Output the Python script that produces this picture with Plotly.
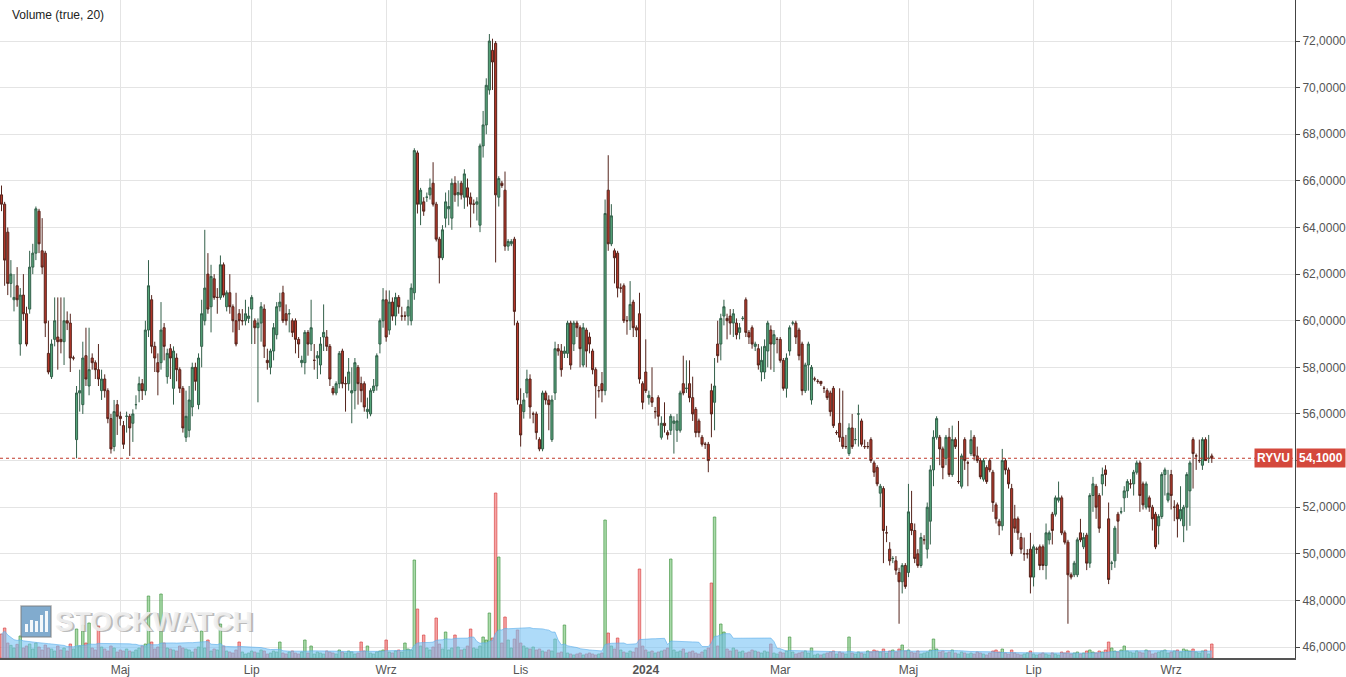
import numpy as np
import pandas as pd
import plotly.graph_objects as go

# ---------------- data ----------------
open_ = [
    65.4, 65.0, 63.8, 61.6, 60.9, 61.5, 59.0, 61.1, 60.3, 60.5,
    62.3, 62.9, 64.7, 63.0, 62.9, 58.6, 57.6, 59.2, 59.3, 59.2,
    59.1, 60.0, 59.9, 58.4, 54.9, 56.9, 56.4, 58.5, 57.2, 58.4,
    58.2, 57.9, 57.0, 57.5, 57.0, 55.8, 54.6, 56.4, 55.9, 55.5,
    55.9, 55.9, 55.6, 56.4, 57.0, 57.3, 57.0, 59.6, 60.9, 58.9,
    58.2, 58.2, 59.7, 57.6, 58.8, 57.1, 58.4, 57.9, 57.1, 55.0,
    55.3, 56.3, 58.0, 56.4, 58.9, 60.0, 62.0, 60.6, 61.8, 61.0,
    61.0, 62.4, 60.6, 61.2, 60.6, 60.0, 60.3, 60.0, 60.0, 60.1,
    60.5, 60.0, 59.7, 59.9, 60.5, 58.3, 58.0, 58.7, 59.4, 60.6,
    61.2, 60.3, 60.3, 60.0, 60.0, 59.2, 58.2, 58.2, 59.5, 59.0,
    58.3, 58.4, 58.1, 59.3, 59.3, 58.9, 57.1, 56.9, 57.3, 58.7,
    57.3, 57.3, 56.9, 57.0, 58.0, 57.3, 57.3, 56.1, 56.0, 57.0,
    57.2, 59.0, 60.0, 60.9, 59.6, 60.8, 60.2, 61.0, 60.2, 60.2,
    60.2, 60.0, 61.2, 67.2, 65.0, 65.1, 65.3, 65.4, 65.9, 65.0,
    63.5, 62.7, 64.4, 64.8, 64.4, 65.9, 65.4, 65.9, 65.3, 65.7,
    65.3, 65.0, 65.0, 64.1, 67.5, 68.4, 69.9, 71.6, 71.9, 65.3,
    65.9, 65.6, 63.2, 63.3, 63.5, 59.9, 56.4, 56.1, 56.9, 57.5,
    56.0, 56.0, 54.9, 54.5, 56.9, 56.6, 54.9, 56.9, 58.8, 58.7,
    58.6, 58.6, 59.9, 59.0, 59.9, 59.7, 58.1, 59.6, 59.3, 58.7,
    57.9, 57.0, 57.3, 57.0, 65.6, 63.3, 63.0, 62.9, 61.4, 61.5,
    60.0, 60.0, 60.8, 59.7, 60.3, 57.3, 57.8, 56.7, 56.7, 56.1,
    56.7, 55.0, 55.6, 55.2, 55.3, 55.6, 55.3, 55.3, 57.3, 57.1,
    57.3, 56.7, 56.2, 55.7, 55.0, 54.7, 54.7, 57.0, 56.5, 59.0,
    59.0, 60.2, 60.1, 60.2, 59.9, 59.9, 59.5, 60.1, 60.9, 59.5,
    59.7, 58.9, 58.8, 57.8, 57.8, 58.7, 59.6, 59.0, 59.2, 59.2,
    58.3, 57.1, 58.7, 59.9, 59.9, 59.6, 59.0, 57.0, 58.1, 56.6,
    57.5, 57.4, 57.4, 57.1, 57.0, 56.9, 57.1, 55.2, 55.6, 55.0,
    54.6, 54.3, 55.4, 54.9, 56.0, 55.7, 54.6, 54.6, 54.9, 53.9,
    53.7, 52.6, 52.8, 50.9, 50.2, 49.8, 49.7, 49.2, 48.8, 49.5,
    49.2, 51.3, 51.0, 50.0, 49.5, 50.6, 50.2, 51.4, 53.6, 55.0,
    55.0, 54.5, 54.1, 55.0, 53.4, 54.9, 53.1, 52.9, 54.9, 53.9,
    54.3, 55.0, 54.2, 54.0, 53.2, 53.7, 54.0, 53.5, 52.1, 51.4,
    51.2, 54.0, 53.6, 52.8, 51.5, 51.5, 50.7, 50.0, 50.0, 50.2,
    49.0, 50.2, 50.3, 50.3, 49.5, 50.6, 51.7, 51.7, 52.3, 52.4,
    50.9, 50.5, 49.1, 49.1, 49.1, 50.9, 50.3, 50.8, 49.6, 52.5,
    52.9, 52.5, 53.0, 53.6, 51.5, 49.6, 49.7, 51.7, 51.8, 52.4,
    52.7, 53.0, 53.0, 53.5, 53.9, 53.0, 52.0, 52.4, 52.0, 51.7,
    51.2, 51.6, 53.4, 52.3, 53.4, 52.0, 52.1, 51.5, 51.2, 52.0,
    52.7, 54.9, 54.2, 54.0, 53.8, 54.9, 54.1, 54.2,
]

high_ = [
    65.8, 65.1, 64.0, 62.6, 62.0, 62.3, 61.4, 62.0, 60.6, 63.0,
    63.3, 64.9, 64.8, 64.4, 63.0, 60.0, 59.2, 61.0, 61.0, 61.0,
    61.0, 60.4, 60.3, 58.5, 57.2, 57.9, 59.1, 59.7, 59.7, 58.6,
    58.3, 59.0, 57.9, 57.7, 57.1, 56.0, 56.6, 56.6, 56.1, 55.7,
    56.1, 56.0, 56.2, 56.8, 57.6, 57.5, 60.0, 62.6, 61.1, 59.1,
    58.6, 60.8, 59.9, 58.8, 59.0, 58.9, 58.6, 58.0, 57.2, 57.0,
    57.2, 58.2, 58.2, 58.6, 60.9, 63.9, 62.9, 62.4, 62.0, 61.4,
    62.8, 62.5, 61.3, 62.0, 60.7, 61.2, 60.5, 60.5, 60.9, 60.6,
    61.1, 60.1, 60.1, 60.8, 60.7, 58.8, 58.8, 59.9, 60.8, 61.2,
    61.5, 60.7, 60.5, 60.1, 60.1, 59.3, 58.5, 59.6, 59.6, 60.9,
    59.0, 58.7, 59.3, 60.7, 59.6, 59.0, 57.2, 57.4, 58.7, 58.8,
    57.6, 58.4, 58.0, 58.4, 58.1, 57.6, 57.4, 56.7, 57.1, 57.5,
    58.6, 60.1, 61.4, 61.3, 61.3, 61.0, 61.2, 61.1, 60.6, 60.4,
    60.9, 61.6, 67.4, 67.3, 65.7, 65.3, 65.5, 66.1, 66.8, 65.1,
    63.6, 64.1, 65.5, 65.6, 66.1, 66.2, 66.0, 66.0, 66.5, 66.1,
    65.5, 65.2, 65.3, 67.6, 69.0, 70.4, 72.3, 72.1, 72.0, 66.2,
    66.0, 66.4, 63.5, 63.5, 63.6, 60.0, 57.1, 56.9, 57.9, 57.7,
    56.1, 56.1, 55.0, 57.0, 57.0, 56.8, 56.8, 59.1, 59.0, 59.0,
    58.9, 60.0, 60.0, 60.0, 60.0, 59.8, 59.9, 59.7, 59.5, 58.8,
    58.0, 57.2, 57.8, 65.2, 67.1, 65.0, 63.1, 63.0, 61.6, 61.6,
    60.2, 61.7, 60.9, 59.8, 61.2, 57.4, 59.2, 57.0, 58.0, 56.3,
    56.8, 55.9, 56.5, 55.3, 56.0, 55.9, 56.0, 57.0, 58.5, 58.3,
    58.3, 57.6, 56.3, 55.8, 55.1, 54.8, 54.8, 57.3, 58.4, 60.0,
    60.3, 60.9, 60.3, 60.5, 60.5, 60.1, 59.9, 60.2, 61.0, 59.6,
    59.8, 59.1, 59.0, 58.9, 59.2, 60.0, 59.8, 59.6, 59.3, 59.3,
    58.4, 58.6, 59.8, 60.0, 60.0, 59.7, 59.1, 58.2, 59.1, 58.1,
    57.6, 57.5, 57.4, 57.2, 57.1, 57.0, 57.2, 55.3, 57.1, 57.0,
    55.1, 55.6, 56.0, 55.4, 56.4, 55.8, 54.9, 54.8, 55.0, 54.0,
    53.8, 53.0, 52.9, 51.2, 50.5, 49.9, 49.9, 49.4, 49.6, 49.6,
    53.0, 52.7, 51.3, 50.2, 50.9, 50.8, 52.2, 53.8, 55.3, 55.9,
    55.1, 54.6, 55.1, 55.4, 55.5, 55.0, 55.7, 54.3, 55.0, 54.0,
    55.3, 55.1, 54.6, 54.1, 54.1, 53.8, 54.1, 53.6, 52.2, 51.5,
    54.5, 54.1, 53.7, 53.0, 52.1, 51.6, 50.9, 50.7, 50.2, 50.9,
    50.4, 50.3, 50.4, 50.4, 51.3, 51.0, 51.8, 52.5, 53.1, 52.5,
    51.0, 50.6, 49.2, 49.7, 50.7, 51.5, 50.9, 50.9, 52.6, 53.3,
    53.0, 52.6, 53.7, 53.8, 52.2, 49.7, 51.2, 51.8, 52.0, 52.9,
    53.2, 53.2, 53.6, 54.0, 54.0, 53.1, 53.1, 52.5, 52.1, 51.8,
    51.7, 53.5, 53.7, 53.6, 53.6, 52.3, 52.2, 52.9, 52.1, 53.5,
    54.0, 55.0, 54.3, 54.9, 55.0, 55.0, 55.1, 54.3,
]

low_ = [
    64.7, 61.5, 61.1, 61.0, 60.4, 60.6, 58.5, 60.0, 58.9, 60.3,
    62.0, 62.6, 62.9, 62.0, 59.3, 57.7, 57.5, 58.9, 57.9, 58.6,
    58.1, 59.6, 57.8, 58.3, 54.1, 56.1, 56.0, 57.2, 56.8, 57.9,
    57.5, 57.2, 56.6, 56.7, 55.6, 54.3, 54.4, 55.1, 55.5, 54.5,
    55.2, 54.2, 54.8, 56.2, 56.5, 56.6, 56.8, 59.3, 58.6, 57.8,
    56.8, 57.9, 58.3, 57.3, 57.5, 56.4, 57.4, 56.9, 55.2, 54.8,
    55.0, 55.9, 57.0, 56.2, 58.0, 59.8, 60.3, 59.5, 60.9, 60.3,
    60.9, 61.0, 60.4, 60.3, 59.5, 58.9, 59.6, 59.8, 59.8, 59.9,
    59.0, 59.0, 56.5, 59.1, 58.4, 57.9, 57.7, 58.3, 59.2, 60.4,
    59.9, 59.8, 59.5, 59.3, 58.6, 58.4, 58.0, 57.7, 58.5, 58.7,
    57.9, 57.5, 57.7, 58.7, 58.7, 57.2, 56.8, 56.8, 57.1, 57.1,
    56.1, 57.0, 55.6, 56.2, 56.4, 56.5, 56.1, 55.8, 55.9, 56.9,
    57.0, 58.6, 59.7, 59.1, 59.4, 60.0, 59.8, 60.3, 60.0, 60.0,
    59.8, 59.8, 60.9, 64.6, 64.1, 64.5, 65.1, 65.2, 64.9, 63.4,
    61.6, 62.6, 64.0, 64.1, 63.9, 65.1, 64.9, 65.2, 64.8, 64.9,
    64.0, 64.6, 64.3, 63.8, 67.0, 68.0, 69.7, 69.9, 62.5, 64.9,
    65.7, 63.0, 63.0, 63.2, 59.8, 56.4, 54.6, 55.8, 56.7, 55.8,
    55.6, 54.9, 54.4, 54.4, 56.4, 55.3, 54.8, 56.6, 58.5, 57.6,
    58.4, 58.4, 57.9, 58.7, 59.3, 58.0, 58.0, 58.0, 58.6, 57.7,
    55.8, 56.7, 56.5, 56.8, 63.0, 63.2, 61.6, 61.0, 61.2, 59.9,
    59.4, 59.6, 59.3, 59.3, 57.3, 56.2, 56.9, 56.4, 56.3, 55.8,
    55.5, 54.9, 55.2, 54.9, 55.1, 54.3, 54.8, 55.2, 56.8, 56.9,
    56.5, 55.7, 55.0, 55.0, 54.6, 54.5, 53.5, 55.0, 55.3, 58.2,
    58.3, 59.8, 59.2, 59.4, 59.3, 59.2, 59.2, 60.0, 59.3, 59.0,
    58.8, 58.7, 57.9, 57.4, 57.5, 58.0, 57.9, 57.8, 58.6, 58.2,
    57.0, 56.7, 58.5, 59.8, 59.0, 58.3, 56.8, 56.9, 57.0, 56.4,
    57.4, 57.3, 57.2, 56.9, 56.6, 55.9, 55.4, 55.1, 54.8, 54.5,
    54.5, 54.2, 54.5, 54.7, 54.6, 54.6, 54.5, 54.5, 53.9, 53.3,
    52.9, 52.0, 49.6, 50.5, 49.5, 49.6, 49.1, 47.0, 48.3, 48.5,
    49.0, 50.8, 49.6, 49.4, 49.4, 50.4, 49.8, 50.4, 52.9, 54.9,
    53.8, 53.2, 53.8, 53.3, 53.3, 54.5, 53.0, 52.8, 53.6, 52.9,
    54.2, 54.0, 53.9, 53.2, 53.1, 53.0, 53.5, 51.8, 51.3, 50.8,
    51.0, 53.4, 52.8, 49.9, 50.9, 50.6, 50.0, 49.7, 49.8, 48.3,
    48.6, 50.0, 49.3, 49.3, 48.9, 50.4, 50.4, 51.6, 52.2, 50.8,
    50.4, 47.0, 48.9, 49.0, 49.0, 50.5, 50.2, 49.3, 49.4, 51.8,
    51.5, 50.9, 52.5, 52.9, 48.7, 49.3, 49.4, 50.0, 51.7, 51.8,
    52.4, 52.8, 52.5, 53.4, 51.8, 51.9, 51.9, 51.8, 51.0, 50.2,
    50.4, 51.5, 52.5, 52.2, 51.9, 51.4, 50.7, 51.4, 50.5, 51.0,
    51.2, 52.8, 53.6, 53.9, 53.6, 54.0, 53.9, 53.9,
]

close_ = [
    65.0, 62.6, 61.6, 62.0, 61.0, 60.9, 61.1, 60.3, 59.0, 62.3,
    62.9, 64.8, 63.3, 62.3, 59.9, 57.8, 59.0, 60.0, 59.1, 59.1,
    60.0, 59.9, 58.4, 58.4, 56.9, 57.0, 58.4, 57.5, 57.9, 58.2,
    57.9, 57.5, 57.5, 57.0, 55.8, 54.5, 56.1, 55.9, 55.8, 54.7,
    55.9, 55.4, 56.0, 56.4, 57.3, 57.0, 59.6, 61.5, 58.9, 58.4,
    57.8, 59.6, 58.9, 58.6, 58.4, 58.7, 57.9, 57.1, 55.4, 55.9,
    56.6, 58.0, 57.4, 58.4, 60.3, 61.4, 60.5, 61.9, 61.0, 61.0,
    62.4, 61.1, 61.2, 60.6, 60.0, 59.0, 60.0, 60.0, 60.3, 60.2,
    61.0, 59.7, 59.9, 60.6, 58.9, 58.2, 58.7, 59.7, 60.6, 60.8,
    60.0, 60.0, 60.3, 59.5, 59.2, 59.0, 58.3, 59.5, 59.0, 59.7,
    58.3, 58.5, 59.0, 59.5, 58.9, 57.5, 56.9, 57.3, 58.6, 57.3,
    57.3, 57.8, 57.0, 58.2, 57.3, 57.0, 56.3, 56.2, 57.0, 57.2,
    58.5, 60.0, 60.9, 59.3, 60.8, 60.2, 61.0, 60.6, 60.2, 60.2,
    60.6, 61.4, 67.3, 65.0, 65.6, 64.7, 65.3, 65.7, 65.0, 63.5,
    62.7, 63.9, 65.1, 64.9, 65.9, 65.4, 65.5, 65.4, 66.3, 65.3,
    65.0, 65.0, 65.1, 67.5, 68.4, 70.1, 72.0, 71.1, 65.4, 66.1,
    65.8, 63.2, 63.4, 63.4, 60.4, 56.6, 55.1, 56.6, 57.5, 56.3,
    56.0, 55.2, 54.5, 56.9, 56.6, 56.4, 56.6, 58.8, 58.7, 57.9,
    58.7, 59.9, 58.1, 59.9, 59.7, 58.8, 59.7, 58.7, 59.0, 57.9,
    57.2, 57.0, 57.0, 64.6, 63.3, 64.5, 62.7, 61.4, 61.4, 60.0,
    60.0, 60.7, 59.7, 59.6, 57.5, 56.5, 57.0, 56.8, 56.5, 56.1,
    55.9, 55.6, 55.5, 55.1, 55.9, 55.7, 55.7, 56.9, 56.9, 57.1,
    56.7, 56.0, 55.2, 55.2, 54.7, 54.7, 54.0, 56.0, 57.2, 58.5,
    60.1, 60.6, 60.0, 59.9, 60.3, 59.4, 59.7, 60.1, 59.5, 59.3,
    59.0, 59.0, 58.1, 58.3, 58.9, 59.9, 59.0, 59.4, 59.2, 58.3,
    57.1, 58.4, 59.7, 59.9, 59.3, 58.5, 57.0, 58.1, 59.0, 58.0,
    57.5, 57.4, 57.3, 57.1, 56.7, 56.1, 55.5, 55.2, 55.0, 54.6,
    54.6, 55.4, 54.6, 54.9, 56.0, 54.7, 54.6, 54.6, 54.0, 53.5,
    53.0, 52.9, 51.0, 50.9, 49.7, 49.8, 49.3, 48.8, 49.5, 48.6,
    51.8, 51.0, 49.8, 49.5, 50.7, 50.6, 52.0, 53.6, 55.0, 55.8,
    54.5, 53.7, 55.0, 53.4, 54.9, 54.6, 53.1, 54.2, 54.0, 53.9,
    54.9, 54.2, 54.0, 53.3, 54.0, 53.1, 53.6, 52.2, 51.5, 51.2,
    54.0, 53.6, 53.0, 50.0, 51.1, 50.9, 50.2, 50.0, 50.0, 49.0,
    50.3, 50.2, 49.5, 49.5, 50.9, 50.9, 51.0, 52.4, 52.4, 50.9,
    50.5, 49.1, 49.0, 49.6, 50.6, 50.6, 50.7, 49.6, 52.5, 53.0,
    52.0, 51.1, 53.4, 53.4, 48.9, 49.6, 51.1, 51.4, 51.8, 52.7,
    53.1, 53.0, 53.5, 53.9, 52.5, 52.1, 53.0, 52.0, 51.5, 50.3,
    51.6, 53.4, 53.6, 52.6, 52.5, 52.0, 51.5, 51.9, 52.0, 53.4,
    53.9, 54.3, 54.2, 54.0, 54.9, 54.0, 54.1, 54.1,
]

# volume in thousands of shares
volume = [
    72, 90, 45, 38, 30, 41, 66, 30, 36, 42,
    27, 45, 33, 24, 39, 30, 27, 21, 36, 24,
    30, 21, 42, 27, 87, 36, 99, 45, 105, 30,
    24, 96, 33, 27, 21, 36, 30, 18, 24, 21,
    27, 21, 18, 24, 30, 36, 42, 186, 48, 27,
    33, 192, 45, 30, 27, 24, 21, 36, 30, 27,
    24, 18, 27, 33, 81, 30, 54, 21, 27, 24,
    102, 36, 21, 18, 15, 24, 48, 18, 12, 15,
    21, 18, 15, 24, 21, 12, 15, 21, 18, 48,
    15, 12, 18, 21, 15, 12, 18, 54, 15, 36,
    12, 18, 15, 12, 21, 18, 15, 12, 24, 18,
    15, 21, 18, 12, 15, 48, 21, 36, 15, 12,
    18, 21, 24, 54, 18, 15, 21, 24, 18, 45,
    27, 24, 294, 147, 36, 69, 30, 24, 33, 120,
    42, 27, 78, 24, 30, 69, 33, 24, 27, 36,
    87, 30, 27, 36, 63, 54, 135, 60, 495, 303,
    45, 123, 54, 30, 57, 84, 45, 36, 30, 27,
    33, 24, 27, 21, 18, 24, 21, 57, 15, 18,
    99, 15, 12, 9, 12, 15, 9, 12, 15, 12,
    9, 12, 15, 414, 75, 36, 27, 60, 24, 18,
    15, 21, 18, 30, 267, 36, 24, 18, 21, 15,
    18, 21, 24, 30, 297, 24, 18, 21, 27, 15,
    18, 21, 15, 12, 18, 24, 30, 225, 423, 36,
    102, 78, 27, 21, 30, 24, 18, 21, 15, 18,
    24, 21, 18, 15, 21, 18, 42, 15, 12, 18,
    15, 21, 63, 18, 12, 15, 18, 21, 15, 30,
    9, 12, 9, 12, 15, 18, 21, 12, 18, 15,
    12, 63, 15, 12, 18, 15, 12, 21, 18, 24,
    21, 18, 27, 15, 21, 24, 18, 27, 39, 21,
    24, 18, 15, 21, 12, 15, 18, 24, 57, 27,
    18, 21, 15, 18, 24, 15, 12, 18, 15, 12,
    15, 12, 18, 15, 12, 9, 15, 21, 24, 18,
    27, 15, 12, 24, 15, 12, 9, 12, 15, 21,
    12, 9, 12, 15, 12, 9, 15, 12, 9, 18,
    15, 21, 12, 15, 18, 12, 15, 21, 24, 18,
    15, 21, 18, 24, 48, 30, 21, 18, 24, 36,
    21, 18, 15, 21, 18, 15, 24, 21, 12, 15,
    18, 21, 24, 15, 18, 21, 24, 18, 27, 24,
    21, 27, 18, 15, 21, 24, 12, 42,
]

month_keys = ["2023-05-01", "2023-07-01", "2023-09-01", "2023-11-01", "2024-01-01",
              "2024-03-01", "2024-05-01", "2024-07-01", "2024-09-01"]
month_labels = ["Maj", "Lip", "Wrz", "Lis", "<b>2024</b>", "Mar", "Maj", "Lip", "Wrz"]
price_ticks = [46, 48, 50, 52, 54, 56, 58, 60, 62, 64, 66, 68, 70, 72]
ticker = "RYVU"
last_price = 54.1
last_price_label = "54,1000"
# tick label hidden under the last-price box
price_tick_labels = ["" if v == 54 else "%d,0000" % v for v in price_ticks]
gpw_holidays = ["2023-04-07", "2023-04-10", "2023-05-01", "2023-05-03", "2023-06-08",
                "2023-08-15", "2023-11-01", "2023-12-25", "2023-12-26", "2024-01-01",
                "2024-03-29", "2024-04-01", "2024-05-01", "2024-05-03", "2024-05-30",
                "2024-08-15"]

# ---------------- build ----------------
N = min(len(open_), len(high_), len(low_), len(close_), len(volume))
o = np.array(open_[:N]); h = np.array(high_[:N]); l = np.array(low_[:N]); c = np.array(close_[:N])
v = np.array(volume[:N], dtype=float)
h = np.maximum(h, np.maximum(o, c)); l = np.minimum(l, np.minimum(o, c))
idx = np.arange(N)
dates = pd.bdate_range("2023-03-06", periods=N, freq="C", holidays=gpw_holidays)
tickpos = [int(np.searchsorted(dates.values, np.datetime64(m))) for m in month_keys]

vol_ma = pd.Series(v).rolling(20, min_periods=1).mean()
up = c >= o

PW, PH = 1295.0, 658.0  # plot area in pixels


def px(xp):
    return xp / PW


def py(yp):
    return 1 - yp / PH


fig = go.Figure()

# volume (primary y, hidden)
fig.add_trace(go.Scatter(
    x=idx, y=vol_ma, mode="lines", fill="tozeroy",
    line=dict(width=0.8, color="rgba(95,175,235,0.8)", shape="linear"),
    fillcolor="rgba(120,195,245,0.6)", yaxis="y", hoverinfo="skip", showlegend=False))
fig.add_trace(go.Bar(
    x=idx, y=v, yaxis="y", showlegend=False, hoverinfo="skip",
    marker=dict(color=np.where(up, "rgba(100,190,100,0.55)", "rgba(240,90,90,0.55)"),
                line=dict(color=np.where(up, "rgba(70,150,70,0.85)", "rgba(215,70,70,0.85)"), width=0.8))))

# candles (overlay y2, on top)
fig.add_trace(go.Candlestick(
    x=idx, open=o, high=h, low=l, close=c, yaxis="y2", showlegend=False,
    whiskerwidth=0,
    increasing=dict(line=dict(color="#33604a", width=1), fillcolor="#56a57a"),
    decreasing=dict(line=dict(color="#55241c", width=1), fillcolor="#b8382a"),
    hoverinfo="skip"))

fig.update_layout(
    width=1346, height=677,
    margin=dict(l=0, r=51, t=0, b=19),
    paper_bgcolor="white", plot_bgcolor="white",
    font=dict(family="Liberation Sans, Arial, sans-serif", size=12, color="#555"),
    showlegend=False, bargap=0.2, boxgap=0.05,
    xaxis=dict(range=[-0.48, 413.6], tickmode="array", tickvals=tickpos, ticktext=month_labels,
               showgrid=True, gridcolor="#e4e4e4", gridwidth=1, zeroline=False,
               showline=True, linecolor="#555", linewidth=1.5, ticks="",
               rangeslider=dict(visible=False), tickfont=dict(size=12, color="#555")),
    yaxis=dict(range=[0, 658 * 3], visible=False, showgrid=False, fixedrange=True),
    yaxis2=dict(range=[45.53, 73.76], overlaying="y", side="right",
                tickmode="array", tickvals=price_ticks, ticktext=price_tick_labels,
                showgrid=True, gridcolor="#e4e4e4", zeroline=False,
                showline=True, linecolor="#444", linewidth=1,
                ticks="outside", ticklen=4, tickcolor="#444",
                tickfont=dict(size=12, color="#555")),
)

shapes = [
    dict(type="line", xref="paper", yref="y2", x0=0, x1=1, y0=last_price, y1=last_price,
         line=dict(color="#c0392b", width=1, dash="dot")),
    # watermark logo
    dict(type="rect", xref="paper", yref="paper", x0=px(21), x1=px(51), y0=py(637), y1=py(606),
         fillcolor="rgba(75,135,185,0.7)", line=dict(color="rgba(120,120,120,0.6)", width=1.5)),
]
for bx, bh in [(25, 8), (30, 12), (35, 11), (40, 17), (45, 21)]:
    shapes.append(dict(type="rect", xref="paper", yref="paper", x0=px(bx), x1=px(bx + 3),
                       y0=py(632), y1=py(632 - bh), fillcolor="rgba(255,255,255,0.9)",
                       line=dict(width=0)))

wm_font = "Liberation Sans, Arial, sans-serif"
annotations = [
    dict(xref="paper", yref="paper", x=px(10), y=py(15), xanchor="left", yanchor="middle",
         text="Volume (true, 20)", showarrow=False, font=dict(size=12, color="#222")),
    dict(xref="paper", yref="paper", x=px(53), y=py(621), xanchor="left", yanchor="middle",
         text="<b>STOCKWATCH</b>", showarrow=False, xshift=1.5, yshift=-1.5,
         font=dict(size=28, color="rgba(130,130,130,0.55)", family=wm_font)),
    dict(xref="paper", yref="paper", x=px(53), y=py(621), xanchor="left", yanchor="middle",
         text="<b>STOCKWATCH</b>", showarrow=False,
         font=dict(size=28, color="rgba(240,240,240,0.92)", family=wm_font)),
    dict(xref="paper", yref="y2", x=1, y=last_price, xanchor="right", yanchor="middle",
         xshift=-2, text="<b>%s</b>" % ticker, showarrow=False, bgcolor="#d4483c",
         borderpad=2, font=dict(size=12, color="white")),
    dict(xref="paper", yref="y2", x=1, y=last_price, xanchor="left", yanchor="middle",
         xshift=1, text="<b>%s</b>" % last_price_label, showarrow=False, bgcolor="#d4483c",
         borderpad=2, font=dict(size=12, color="white")),
]
fig.update_layout(shapes=shapes, annotations=annotations)

fig.write_html("out.html", config={"displayModeBar": False},
               post_script="document.body.style.margin='0';")
